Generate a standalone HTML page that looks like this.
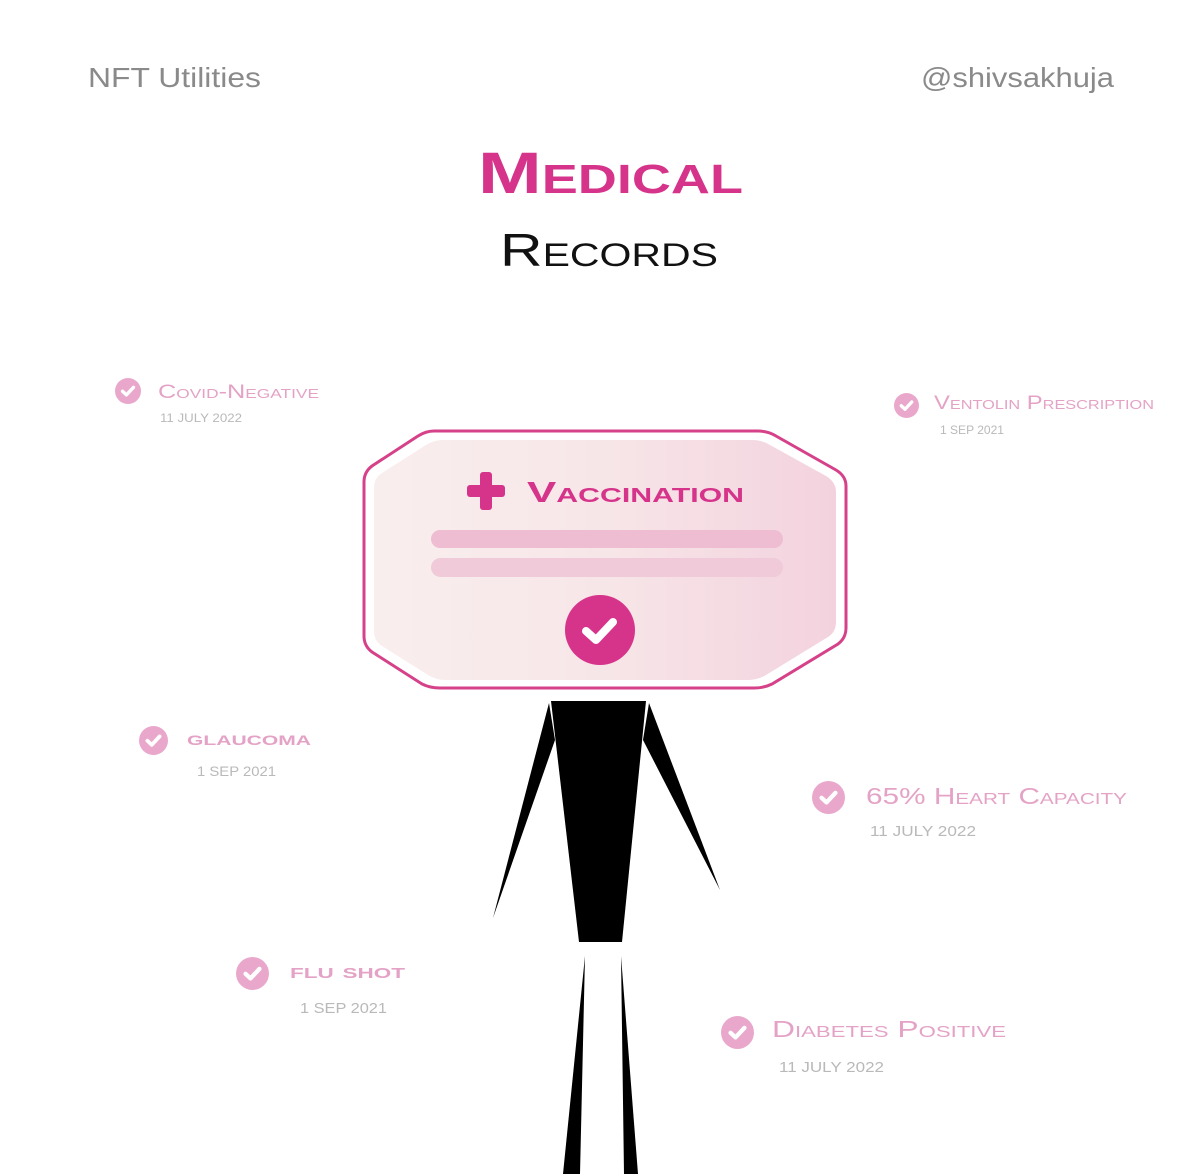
<!DOCTYPE html>
<html><head><meta charset="utf-8"><style>
html,body{margin:0;padding:0;background:#fff;}
svg{display:block;}
text{font-family:"Liberation Sans",sans-serif;}
.sc{font-variant:small-caps;}
</style></head><body>
<svg width="1200" height="1174" viewBox="0 0 1200 1174" xmlns="http://www.w3.org/2000/svg">
<defs>
<symbol id="chk" viewBox="-1 -1 2 2">
<circle cx="0" cy="0" r="1" fill="#e9a8cb"/>
<polyline points="-0.42,0.02 -0.12,0.3 0.42,-0.28" fill="none" stroke="#fff" stroke-width="0.26" stroke-linecap="round" stroke-linejoin="round"/>
</symbol>
<linearGradient id="cg" x1="0" x2="1" y1="0" y2="0">
<stop offset="0" stop-color="#f9eeee"/><stop offset="0.5" stop-color="#f7e6e8"/><stop offset="1" stop-color="#f3d2de"/>
</linearGradient>
</defs>

<text x="88" y="87" font-size="28" fill="#8a8a8a" textLength="173" lengthAdjust="spacingAndGlyphs">NFT Utilities</text>
<text x="921" y="87" font-size="28" fill="#8a8a8a" textLength="193" lengthAdjust="spacingAndGlyphs">@shivsakhuja</text>

<text x="478" y="193" font-size="58" font-weight="bold" fill="#d6338a" class="sc" textLength="265" lengthAdjust="spacingAndGlyphs">Medical</text>
<text x="500" y="266" font-size="46" fill="#111" class="sc" textLength="218" lengthAdjust="spacingAndGlyphs">Records</text>

<!-- card -->
<path d="M434,431 L758,431 Q768,431 776,436 L836,470 Q846,476 846,486 L846,628 Q846,638 838,644 L772,684 Q764,688 754,688 L440,688 Q430,688 422,684 L372,652 Q364,646 364,636 L364,482 Q364,472 372,466 L418,436 Q426,431 434,431 Z" fill="#fff" stroke="#d6428a" stroke-width="3"/>
<path d="M442,440 L752,440 Q762,440 770,445 L826,476 Q836,482 836,492 L836,622 Q836,632 828,637 L766,675 Q758,680 748,680 L446,680 Q436,680 428,675 L382,646 Q374,641 374,631 L374,488 Q374,478 382,473 L426,445 Q434,440 442,440 Z" fill="url(#cg)"/>
<rect x="480" y="472" width="12" height="38" rx="3" fill="#d6338a"/>
<rect x="467" y="485" width="38" height="12" rx="3" fill="#d6338a"/>
<text x="527" y="502" font-size="29" font-weight="bold" fill="#d6338a" class="sc" textLength="217" lengthAdjust="spacingAndGlyphs">Vaccination</text>
<rect x="431" y="530" width="352" height="18" rx="9" fill="#eebdd2"/>
<rect x="431" y="558" width="352" height="19" rx="9.5" fill="#f0cad9"/>
<circle cx="600" cy="630" r="35" fill="#d6338a"/>
<polyline points="586,631 596,640 613,622" fill="none" stroke="#fff" stroke-width="8" stroke-linecap="round" stroke-linejoin="round"/>

<!-- figure -->
<polygon points="551,701 646,701 622,942 579,942" fill="#000"/>
<polygon points="549,703 555,740 493,918" fill="#000"/>
<polygon points="649,703 643,740 720,890" fill="#000"/>
<polygon points="585,956 580,1174 563,1174" fill="#000"/>
<polygon points="621,956 638,1174 624,1174" fill="#000"/>

<!-- items -->
<use href="#chk" x="115" y="378" width="26" height="26"/>
<text x="158" y="398" font-size="19" fill="#e4a3c6" class="sc" textLength="161" lengthAdjust="spacingAndGlyphs">Covid-Negative</text>
<text x="160" y="422" font-size="12" fill="#b9b9b9" textLength="82" lengthAdjust="spacingAndGlyphs">11 JULY 2022</text>

<use href="#chk" x="894" y="393" width="25" height="25"/>
<text x="934" y="409" font-size="19" fill="#e4a3c6" class="sc" textLength="220" lengthAdjust="spacingAndGlyphs">Ventolin Prescription</text>
<text x="940" y="434" font-size="12" fill="#b9b9b9" textLength="64" lengthAdjust="spacingAndGlyphs">1 SEP 2021</text>

<use href="#chk" x="139" y="726" width="29" height="29"/>
<text x="187" y="745" font-size="20" font-weight="bold" fill="#e4a3c6" class="sc" textLength="124" lengthAdjust="spacingAndGlyphs">glaucoma</text>
<text x="197" y="776" font-size="14" fill="#b9b9b9" textLength="79" lengthAdjust="spacingAndGlyphs">1 SEP 2021</text>

<use href="#chk" x="812" y="781" width="33" height="33"/>
<text x="866" y="804" font-size="23" fill="#e4a3c6" class="sc" textLength="261" lengthAdjust="spacingAndGlyphs">65% Heart Capacity</text>
<text x="870" y="836" font-size="15" fill="#b9b9b9" textLength="106" lengthAdjust="spacingAndGlyphs">11 JULY 2022</text>

<use href="#chk" x="236" y="957" width="33" height="33"/>
<text x="290" y="978" font-size="21" font-weight="bold" fill="#e4a3c6" class="sc" textLength="115" lengthAdjust="spacingAndGlyphs">flu shot</text>
<text x="300" y="1013" font-size="15" fill="#b9b9b9" textLength="87" lengthAdjust="spacingAndGlyphs">1 SEP 2021</text>

<use href="#chk" x="721" y="1016" width="33" height="33"/>
<text x="772" y="1037" font-size="23" fill="#e4a3c6" class="sc" textLength="234" lengthAdjust="spacingAndGlyphs">Diabetes Positive</text>
<text x="779" y="1072" font-size="15" fill="#b9b9b9" textLength="105" lengthAdjust="spacingAndGlyphs">11 JULY 2022</text>
</svg>
</body></html>
